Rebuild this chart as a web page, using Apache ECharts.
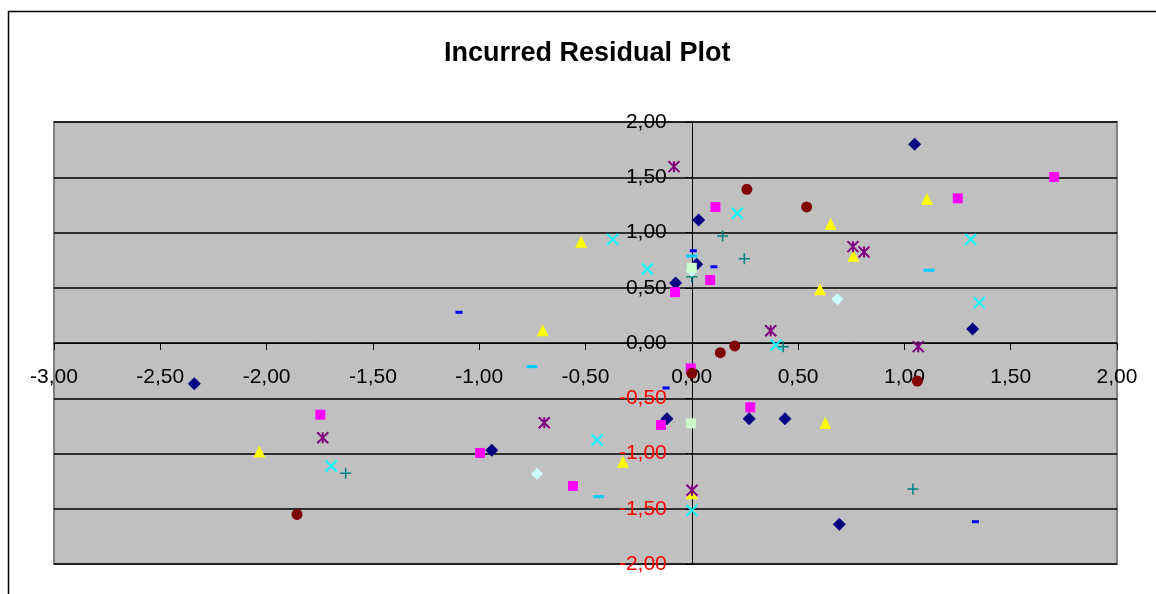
<!DOCTYPE html>
<html>
<head>
<meta charset="utf-8">
<script src="https://cdn.jsdelivr.net/npm/echarts@6/dist/echarts.min.js"></script>
<style>
html,body{margin:0;padding:0;background:#fff;}
#chart{width:1156px;height:594px;}
</style>
</head>
<body>
<div id="chart"></div>
<script>
// ---- data (x = residual predictor, y = standardized residual) ----
const titleText = 'Incurred Residual Plot';
const xRange = [-3, 2];
const yRange = [-2, 2];
const tickStep = 0.5;

const s1 = [[1.048,1.798],[0.032,1.113],[0.023,0.712],[-0.076,0.543],[1.321,0.127],[-2.340,-0.368],[-0.117,-0.685],[0.270,-0.685],[0.438,-0.685],[-0.941,-0.971],[0.694,-1.641]];
const s2 = [[1.704,1.502],[1.251,1.309],[0.111,1.231],[0.086,0.570],[-0.079,0.460],[-0.005,-0.230],[0.275,-0.582],[-0.145,-0.742],[-1.747,-0.649],[-0.996,-0.995],[-0.559,-1.294]];
const s3 = [[1.106,1.303],[0.653,1.077],[-0.521,0.917],[0.760,0.790],[0.603,0.486],[-0.701,0.115],[0.628,-0.724],[-0.324,-1.074],[-2.034,-0.983],[0.000,-1.360]];
const s4 = [[0.214,1.174],[-0.372,0.938],[1.312,0.938],[-0.209,0.670],[1.352,0.365],[0.396,-0.018],[-0.446,-0.878],[-1.696,-1.113],[0.000,-1.515]];
const s5 = [[-0.084,1.596],[0.758,0.872],[0.810,0.824],[0.371,0.111],[1.065,-0.033],[-0.694,-0.721],[-1.736,-0.857],[0.001,-1.333]];
const s6 = [[0.259,1.391],[0.540,1.231],[0.202,-0.027],[0.134,-0.088],[0.000,-0.274],[1.061,-0.344],[-1.857,-1.551]];
const s7 = [[0.145,0.968],[0.247,0.763],[0.000,0.600],[0.430,-0.033],[-1.628,-1.179],[1.040,-1.321]];
const s8 = [[0.007,0.835],[0.104,0.690],[-1.095,0.278],[-0.121,-0.407],[1.334,-1.617]];
const s9 = [[0.000,0.787],[1.116,0.658],[-0.752,-0.214],[-0.438,-1.391]];
const s10 = [[0.000,0.652],[0.685,0.395],[-0.728,-1.183]];
const s11 = [[0.000,0.681],[-0.004,-0.727]];

const FONT = "'Liberation Sans', Arial, sans-serif";
const fmt = v => v.toFixed(2).replace('.', ',');

const X_PATH = 'path://M0,0L10,10M10,0L0,10';
const STAR_PATH = 'path://M0,0L10,10M10,0L0,10M5,0L5,10';
const PLUS_PATH = 'path://M5,0L5,10M0,5L10,5';

function filled(name, data, color, symbol, size) {
  return { name, type: 'scatter', data, symbol, symbolSize: size,
    itemStyle: { color, opacity: 1 }, emphasis: { disabled: true } };
}
function stroked(name, data, color, symbol, size, w) {
  return { name, type: 'scatter', data, symbol, symbolSize: size,
    itemStyle: { color: 'rgba(0,0,0,0)', borderColor: color, borderWidth: w, opacity: 1 },
    emphasis: { disabled: true } };
}

// grid geometry
const G = { left: 54, top: 122, width: 1063, height: 442 };
// axes cross at zero: shift each axis inward by the zero position on the other axis
const yAxisOffset = -G.width * (0 - xRange[0]) / (xRange[1] - xRange[0]);
const xAxisOffset = -G.height * (0 - yRange[0]) / (yRange[1] - yRange[0]);

const chart = echarts.init(document.getElementById('chart'), null, { renderer: 'canvas' });
chart.setOption({
  animation: false,
  backgroundColor: '#ffffff',
  textStyle: { fontFamily: FONT },
  title: {
    text: titleText, left: 444, top: 40, padding: 0,
    textStyle: { fontFamily: FONT, fontSize: 27, fontWeight: 'bold', color: '#000' }
  },
  graphic: [{
    type: 'rect', silent: true, z: -10,
    shape: { x: 8.5, y: 11.5, width: 1300, height: 700 },
    style: { fill: 'none', stroke: '#000', lineWidth: 1.5 }
  }],
  grid: {
    left: G.left, top: G.top, width: G.width, height: G.height,
    containLabel: false, outerBoundsMode: 'none',
    show: true, backgroundColor: '#C0C0C0', borderColor: '#808080', borderWidth: 2
  },
  xAxis: {
    type: 'value', min: xRange[0], max: xRange[1], interval: tickStep,
    position: 'bottom', offset: xAxisOffset,
    axisLine: { onZero: false, lineStyle: { color: '#000', width: 1 } },
    axisTick: { show: true, inside: false, length: 7, lineStyle: { color: '#000' } },
    splitLine: { show: false },
    axisLabel: { margin: 24, fontSize: 21, fontFamily: FONT, color: '#000',
      formatter: v => fmt(v), showMinLabel: true, showMaxLabel: true, hideOverlap: false }
  },
  yAxis: {
    type: 'value', min: yRange[0], max: yRange[1], interval: tickStep,
    position: 'left', offset: yAxisOffset,
    axisLine: { onZero: false, lineStyle: { color: '#000', width: 1 } },
    axisTick: { show: true, inside: false, length: 6, lineStyle: { color: '#000' } },
    splitLine: { show: true, lineStyle: { color: '#000', width: 1.5 } },
    axisLabel: { margin: 25, fontSize: 21, fontFamily: FONT,
      color: v => (Number(v) < 0 ? '#FF0000' : '#000000'),
      formatter: v => fmt(v), showMinLabel: true, showMaxLabel: true, hideOverlap: false }
  },
  series: [
    filled('1', s1, '#000080', 'diamond', 13),
    filled('2', s2, '#FF00FF', 'rect', 10),
    filled('3', s3, '#FFFF00', 'triangle', 12),
    stroked('4', s4, '#00FFFF', X_PATH, 11, 2),
    stroked('5', s5, '#800080', STAR_PATH, 11, 2),
    filled('6', s6, '#800000', 'circle', 11),
    stroked('7', s7, '#008080', PLUS_PATH, 11, 1.5),
    filled('8', s8, '#0000FF', 'rect', [7, 3]),
    filled('9', s9, '#00CCFF', 'rect', [11, 3]),
    filled('10', s10, '#CCFFFF', 'diamond', 12),
    filled('11', s11, '#CCFFCC', 'rect', 10)
  ]
});
</script>
</body>
</html>
